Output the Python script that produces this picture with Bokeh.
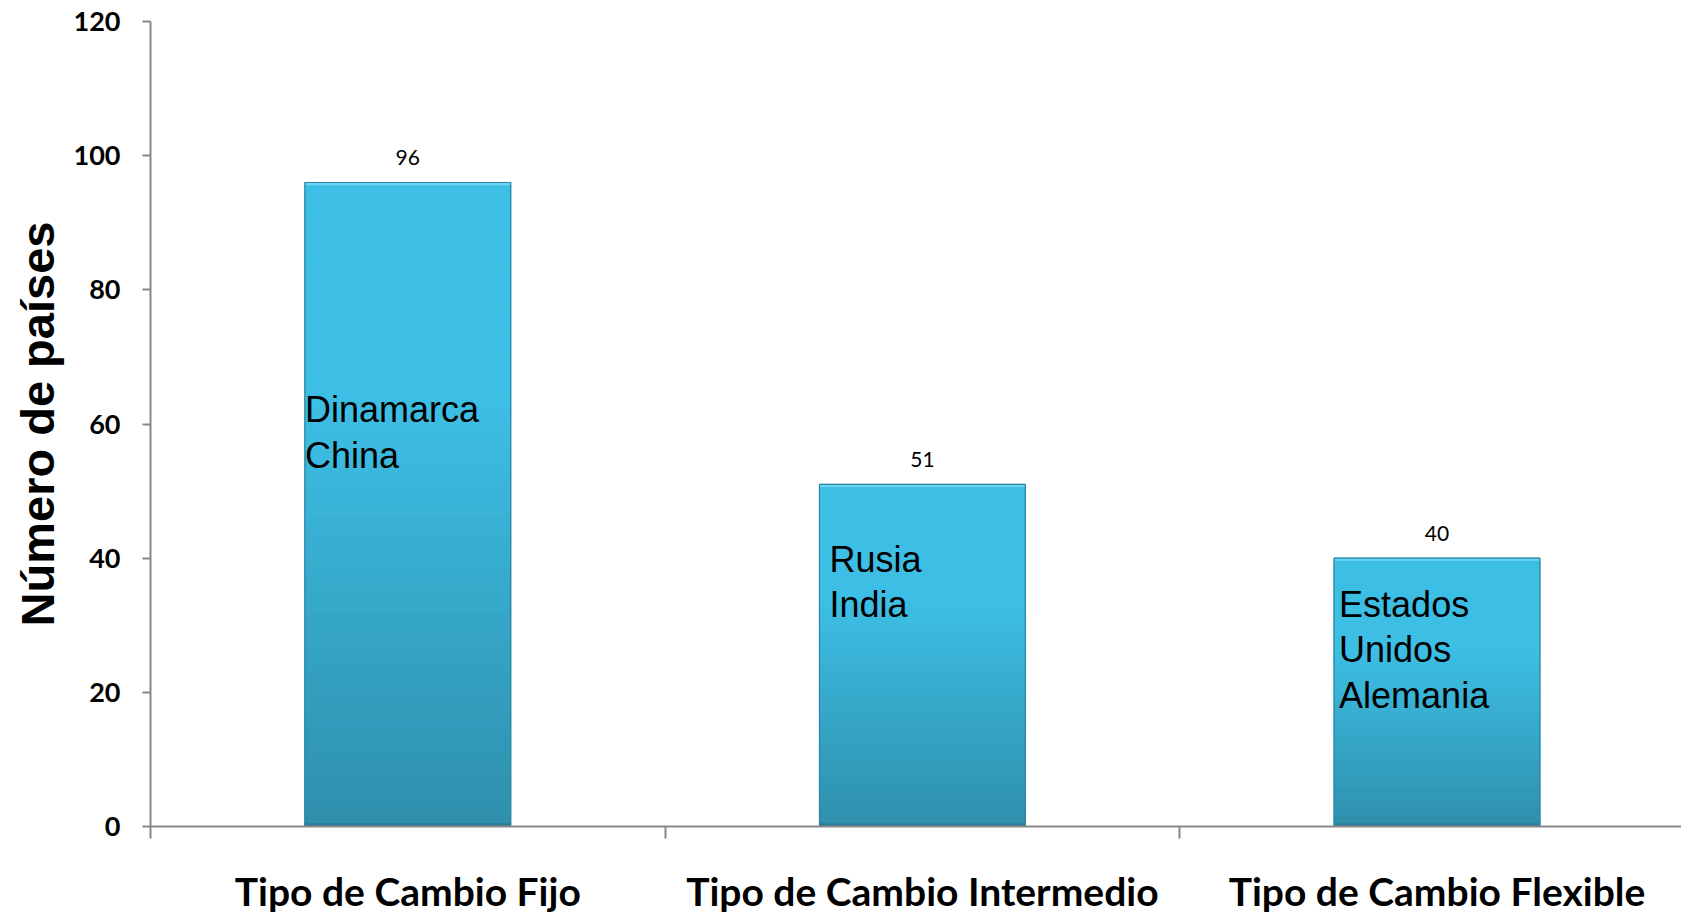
from bokeh.plotting import figure
from bokeh.models import Range1d, FixedTicker, ColumnDataSource
from bokeh.core.properties import value
from bokeh.embed import file_html
from bokeh.resources import INLINE

# ---------------- data ----------------
categories = ["Tipo de Cambio Fijo", "Tipo de Cambio Intermedio", "Tipo de Cambio Flexible"]
counts = [96, 51, 40]
examples = [["Dinamarca", "China"], ["Rusia", "India"], ["Estados", "Unidos", "Alemania"]]
y_ticks = [0, 20, 40, 60, 80, 100, 120]
y_title = "Número de países"

# ---------------- layout / style ----------------
BAR_W = 0.4
example_first_line = [62.1, 39.8, 33.1]   # data y of first text line (center)
example_step = 6.75                        # data units between lines
example_pad = [0, 10, 5]                   # px from bar's left edge

W, H = 1681, 918
LB, TB, BB = 150, 21, 92
CAT_PX = 514.6
p = figure(width=W, height=H, output_backend="svg", toolbar_location=None,
           x_range=Range1d(0, (W - LB) / CAT_PX), y_range=Range1d(0, 120),
           min_border_left=LB, min_border_right=0, min_border_top=TB, min_border_bottom=BB)
p.outline_line_color = None
p.xgrid.grid_line_color = None
p.ygrid.grid_line_color = None
p.background_fill_color = "white"
p.border_fill_color = "white"

xs = [i + 0.5 for i in range(len(categories))]

# gradient bars built from slices of each bar
c_top = (61, 190, 228)
c_bot = (46, 143, 172)
N = 60
left, right, bottom, top, color = [], [], [], [], []
for x, v in zip(xs, counts):
    for k in range(N):
        b = v * k / N
        t_ = v * (k + 1) / N
        t = 1 - (k + 0.5) / N
        f = 0 if t < 0.35 else (t - 0.35) / 0.65
        rgb = tuple(int(round(c_top[j] + (c_bot[j] - c_top[j]) * f)) for j in range(3))
        left.append(x - BAR_W / 2); right.append(x + BAR_W / 2)
        bottom.append(b); top.append(t_)
        color.append("#%02x%02x%02x" % rgb)

src = ColumnDataSource(dict(x=xs, v=counts, lab=[str(c) for c in counts],
                            hi=[c - 0.4 for c in counts]))
p.quad(left=left, right=right, bottom=bottom, top=top, fill_color=color,
       line_color=color, line_width=1)
# top highlight and bottom shade (bevel look)
p.quad(left=[x - BAR_W / 2 for x in xs], right=[x + BAR_W / 2 for x in xs],
       bottom=src.data["hi"], top=counts, fill_color="#6ad6f4", line_color=None)
p.quad(left=[x - BAR_W / 2 for x in xs], right=[x + BAR_W / 2 for x in xs],
       bottom=[0] * 3, top=[0.5] * 3, fill_color="#2a7d96", line_color=None)
p.vbar(x="x", top="v", width=BAR_W, source=src, fill_color=None,
       line_color="#2a86a1", line_width=1.2)

# value labels
p.text(x="x", y="v", text="lab", source=src, text_align="center", text_baseline="middle",
       y_offset=-25, text_font=value("Lato"), text_font_size="21px", text_color="black")

# example country labels inside bars
tx, ty, tt, txo = [], [], [], []
for i, (x, lines) in enumerate(zip(xs, examples)):
    for j, s in enumerate(lines):
        tx.append(x - BAR_W / 2)
        ty.append(example_first_line[i] - j * example_step)
        tt.append(s)
        txo.append(example_pad[i])
p.text(x=tx, y=ty, text=tt, x_offset=txo, text_align="left", text_baseline="middle",
       text_font=value("Liberation Sans"), text_font_size="36px", text_color="black")

# axes
AX_COL = "#888888"
xa = p.xaxis[0]
xa.ticker = FixedTicker(ticks=xs, minor_ticks=[0, 1, 2, 3])
xa.major_label_overrides = {x: c for x, c in zip(xs, categories)}
xa.major_tick_line_color = None
xa.minor_tick_in = 0
xa.minor_tick_out = 12
xa.minor_tick_line_color = AX_COL
xa.minor_tick_line_width = 2
xa.axis_line_color = AX_COL
xa.axis_line_width = 2
xa.major_label_text_font = "Lato"
xa.major_label_text_font_style = "bold"
xa.major_label_text_font_size = "39px"
xa.major_label_text_color = "black"
xa.major_label_standoff = 29

ya = p.yaxis[0]
ya.ticker = FixedTicker(ticks=y_ticks, minor_ticks=[])
ya.major_tick_in = 0
ya.major_tick_out = 8
ya.major_tick_line_color = AX_COL
ya.major_tick_line_width = 2
ya.axis_line_color = AX_COL
ya.axis_line_width = 2
ya.major_label_text_font = "Lato"
ya.major_label_text_font_style = "bold"
ya.major_label_text_font_size = "27px"
ya.major_label_text_color = "black"
ya.major_label_standoff = 22
ya.axis_label = y_title
ya.axis_label_text_font = "Liberation Sans"
ya.axis_label_text_font_style = "bold"
ya.axis_label_text_font_size = "47px"
ya.axis_label_text_color = "black"
ya.axis_label_standoff = 7

open("out.html", "w").write(file_html(p, INLINE))
